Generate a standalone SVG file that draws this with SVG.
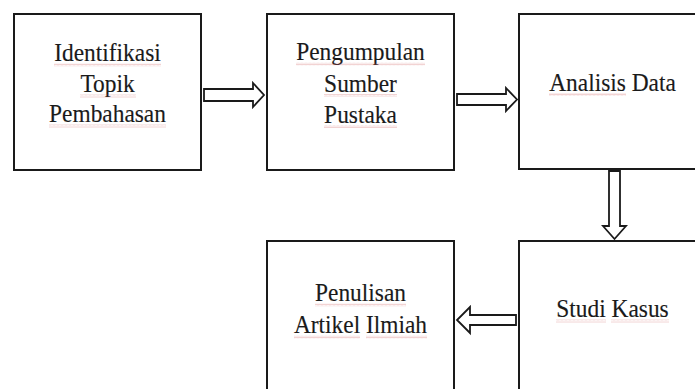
<svg xmlns="http://www.w3.org/2000/svg" width="695" height="389" viewBox="0 0 695 389">
  <style>
    .box { fill: #ffffff; stroke: #1a1a1a; stroke-width: 2; }
    .arrow { fill: #ffffff; stroke: #1a1a1a; stroke-width: 1.8; stroke-linejoin: miter; }
    .label { font-family: "Liberation Serif", "Times New Roman", serif; font-size: 26px; fill: #1a1a1a; stroke: #1a1a1a; stroke-width: 0.15; text-anchor: middle; }
    .squiggle { fill: url(#wave); opacity: 0.35; }
  </style>
  <defs>
    <!-- small zigzag used for the spell-check underline -->
    <pattern id="wave" width="4" height="3" patternUnits="userSpaceOnUse">
      <path d="M0,2.5 L1,0.5 L2,2.5 L3,0.5 L4,2.5" fill="none" stroke="#d06060" stroke-width="0.8"/>
    </pattern>
  </defs>

  <rect width="695" height="389" fill="#ffffff"/>

  <g id="identifikasi">
    <rect class="box" x="14" y="14" width="187" height="156"/>
    <text class="label" transform="translate(107.5,61) scale(0.9,1)">Identifikasi</text>
    <text class="label" transform="translate(107.5,92) scale(0.9,1)">Topik</text>
    <text class="label" transform="translate(107.5,122) scale(0.9,1)">Pembahasan</text>
    <rect class="squiggle" x="54" y="63.5" width="107" height="3"/>
    <rect class="squiggle" x="80" y="94.5" width="56" height="3"/>
    <rect class="squiggle" x="49" y="124.5" width="117" height="3"/>
  </g>

  <g id="pengumpulan">
    <rect class="box" x="267" y="14" width="187" height="156"/>
    <text class="label" transform="translate(360.5,60) scale(0.9,1)">Pengumpulan</text>
    <text class="label" transform="translate(360.5,91.5) scale(0.9,1)">Sumber</text>
    <text class="label" transform="translate(360.5,122.5) scale(0.9,1)">Pustaka</text>
    <rect class="squiggle" x="296" y="62.5" width="129" height="3"/>
    <rect class="squiggle" x="324" y="94" width="73" height="3"/>
    <rect class="squiggle" x="324" y="125" width="73" height="3"/>
  </g>

  <g id="analisis">
    <rect class="box" x="519" y="14" width="200" height="155"/>
    <text class="label" transform="translate(612.5,90.5) scale(0.9,1)">Analisis Data</text>
    <rect class="squiggle" x="549" y="93" width="77" height="3"/>
  </g>

  <g id="studi">
    <rect class="box" x="519" y="241" width="200" height="160"/>
    <text class="label" transform="translate(612.5,317) scale(0.9,1)">Studi Kasus</text>
    <rect class="squiggle" x="556" y="319.5" width="50" height="3"/>
    <rect class="squiggle" x="611" y="319.5" width="58" height="3"/>
  </g>

  <g id="penulisan">
    <rect class="box" x="267" y="241" width="187" height="160"/>
    <text class="label" transform="translate(360.5,301) scale(0.9,1)">Penulisan</text>
    <text class="label" transform="translate(360.5,333) scale(0.9,1)">Artikel Ilmiah</text>
    <rect class="squiggle" x="315" y="303.5" width="91" height="3"/>
    <rect class="squiggle" x="294" y="335.5" width="66" height="3"/>
    <rect class="squiggle" x="366" y="335.5" width="61" height="3"/>
  </g>

  <g id="connectors">
    <polygon class="arrow" points="204,89 253,89 253,83 264,95 253,107 253,101 204,101"/>
    <polygon class="arrow" points="457,94 506,94 506,88 517,99.5 506,111 506,105 457,105"/>
    <polygon class="arrow" points="609,171 620,171 620,226 626,226 614.5,239 603,226 609,226"/>
    <polygon class="arrow" points="516,315 470,315 470,307 457,320 470,333 470,325 516,325"/>
  </g>
</svg>
